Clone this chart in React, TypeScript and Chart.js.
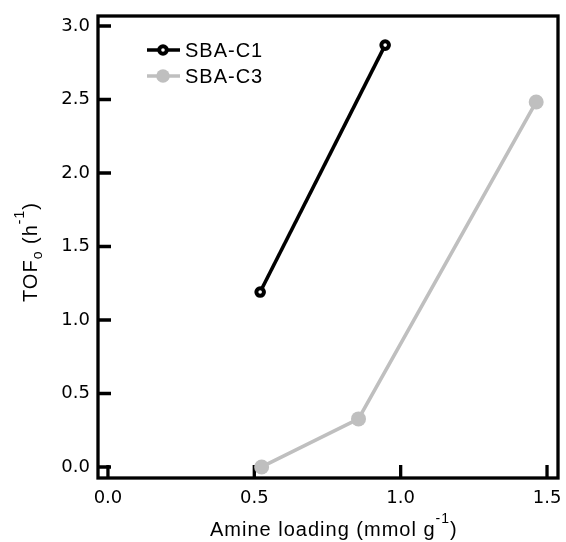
import React, { useEffect, useRef } from 'react';
import { Chart, registerables } from 'chart.js';

Chart.register(...registerables);

// ---- data ----
const xTicks = [0, 0.5, 1.0, 1.5];
const yTicks = [0, 0.5, 1.0, 1.5, 2.0, 2.5, 3.0];
const seriesNames = ['SBA-C1', 'SBA-C3'];
const c1Loading = [0.52, 0.947];
const c1Tof = [1.19, 2.87];
const c3Loading = [0.525, 0.856, 1.463];
const c3Tof = [0.0, 0.327, 2.483];
const xRange = [-0.034, 1.5375];
const yRange = [-0.075, 3.068];

// ---- styles ----
const BLACK = '#000000';
const GRAY = '#bfbfbf';
const TEXT_FONT = '"Liberation Sans", Arial, Helvetica, sans-serif';
const TICK_FONT = '"DejaVu Sans", sans-serif';

type Part = { text: string; size: number; dy: number };

function drawParts(ctx: CanvasRenderingContext2D, parts: Part[], x: number, y: number) {
  let cx = x;
  for (const p of parts) {
    ctx.font = `${p.size}px ${TEXT_FONT}`;
    ctx.fillText(p.text, cx, y + p.dy);
    cx += ctx.measureText(p.text).width;
  }
  return cx;
}

const framePlugin = {
  id: 'frameTicks',
  beforeDatasetsDraw(chart: any) {
    const { ctx, chartArea: a, scales } = chart;
    ctx.save();
    ctx.strokeStyle = BLACK;
    ctx.lineWidth = 3.3;
    ctx.lineCap = 'butt';
    ctx.strokeRect(a.left, a.top, a.right - a.left, a.bottom - a.top);
    ctx.beginPath();
    for (const v of xTicks) {
      const px = scales.x.getPixelForValue(v);
      ctx.moveTo(px, a.bottom);
      ctx.lineTo(px, a.bottom - 13);
    }
    for (const v of yTicks) {
      const py = scales.y.getPixelForValue(v);
      ctx.moveTo(a.left, py);
      ctx.lineTo(a.left + 13, py);
    }
    ctx.stroke();
    ctx.restore();
  },
  afterDraw(chart: any) {
    const { ctx, chartArea: a } = chart;
    ctx.save();
    ctx.fillStyle = BLACK;
    ctx.textBaseline = 'alphabetic';
    (ctx as any).letterSpacing = '1px';

    // legend
    chart.data.datasets.forEach((ds: any, i: number) => {
      const ly = a.top + 34 + i * 26;
      const lx0 = a.left + 49;
      const lx1 = a.left + 82;
      const mx = a.left + 65;
      ctx.strokeStyle = ds.borderColor;
      ctx.lineWidth = 3.6;
      ctx.beginPath();
      ctx.moveTo(lx0, ly);
      ctx.lineTo(lx1, ly);
      ctx.stroke();
      ctx.beginPath();
      ctx.arc(mx, ly, ds.pointRadius * (i === 0 ? 1 : 0.9), 0, Math.PI * 2);
      ctx.fillStyle = ds.pointBackgroundColor;
      ctx.fill();
      if (ds.pointBorderWidth > 0) {
        ctx.lineWidth = ds.pointBorderWidth;
        ctx.strokeStyle = ds.pointBorderColor;
        ctx.stroke();
      }
      ctx.fillStyle = BLACK;
      ctx.font = `20px ${TEXT_FONT}`;
      ctx.fillText(ds.label, a.left + 87, ly + 7);
    });

    // x title
    drawParts(
      ctx,
      [
        { text: 'Amine loading (mmol g', size: 20, dy: 0 },
        { text: '-1', size: 14, dy: -13 },
        { text: ')', size: 20, dy: 0 },
      ],
      210,
      536
    );

    // y title
    ctx.save();
    ctx.translate(37, 302);
    ctx.rotate(-Math.PI / 2);
    drawParts(
      ctx,
      [
        { text: 'TOF', size: 20, dy: 0 },
        { text: 'o', size: 14, dy: 5 },
        { text: ' (h', size: 20, dy: 0 },
        { text: '-1', size: 14, dy: -13 },
        { text: ')', size: 20, dy: 0 },
      ],
      0,
      0
    );
    ctx.restore();
    ctx.restore();
  },
};

export default function App() {
  const ref = useRef<HTMLCanvasElement | null>(null);

  useEffect(() => {
    document.body.style.margin = '0';
    const canvas = ref.current;
    if (!canvas) return;
    const chart = new Chart(canvas, {
      type: 'line',
      data: {
        datasets: [
          {
            label: seriesNames[0],
            data: c1Loading.map((x, i) => ({ x, y: c1Tof[i] })),
            borderColor: BLACK,
            backgroundColor: '#ffffff',
            borderWidth: 3.6,
            pointRadius: 3.8,
            pointBorderWidth: 4,
            pointBackgroundColor: '#ffffff',
            pointBorderColor: BLACK,
            tension: 0,
          } as any,
          {
            label: seriesNames[1],
            data: c3Loading.map((x, i) => ({ x, y: c3Tof[i] })),
            borderColor: GRAY,
            backgroundColor: GRAY,
            borderWidth: 3.6,
            pointRadius: 7.5,
            pointBorderWidth: 0,
            pointBackgroundColor: GRAY,
            pointBorderColor: GRAY,
            tension: 0,
          } as any,
        ],
      },
      options: {
        animation: false,
        responsive: false,
        devicePixelRatio: 1,
        events: [],
        layout: { padding: { top: 16, right: 7, bottom: 0, left: 0 } },
        plugins: { legend: { display: false }, tooltip: { enabled: false } },
        scales: {
          x: {
            type: 'linear',
            position: 'bottom',
            min: xRange[0],
            max: xRange[1],
            grid: { display: false, drawTicks: false },
            border: { display: false },
            ticks: {
              padding: 10,
              color: BLACK,
              font: { family: TICK_FONT, size: 18 },
              callback: (v: any) => Number(v).toFixed(1),
            },
            afterBuildTicks: (s: any) => {
              s.ticks = xTicks.map((v) => ({ value: v }));
            },
            afterFit: (s: any) => {
              s.height = 64;
              s.paddingLeft = 0;
              s.paddingRight = 0;
            },
          },
          y: {
            type: 'linear',
            position: 'left',
            min: yRange[0],
            max: yRange[1],
            grid: { display: false, drawTicks: false },
            border: { display: false },
            ticks: {
              padding: 8,
              color: BLACK,
              font: { family: TICK_FONT, size: 18 },
              callback: (v: any) => Number(v).toFixed(1),
            },
            afterBuildTicks: (s: any) => {
              s.ticks = yTicks.map((v) => ({ value: v }));
            },
            afterFit: (s: any) => {
              s.width = 98;
              s.paddingTop = 0;
              s.paddingBottom = 0;
            },
          },
        },
      } as any,
      plugins: [framePlugin],
    });
    return () => chart.destroy();
  }, []);

  return (
    <div style={{ width: 566, height: 542, background: '#ffffff' }}>
      <canvas ref={ref} width={566} height={542} style={{ display: 'block' }} />
    </div>
  );
}
